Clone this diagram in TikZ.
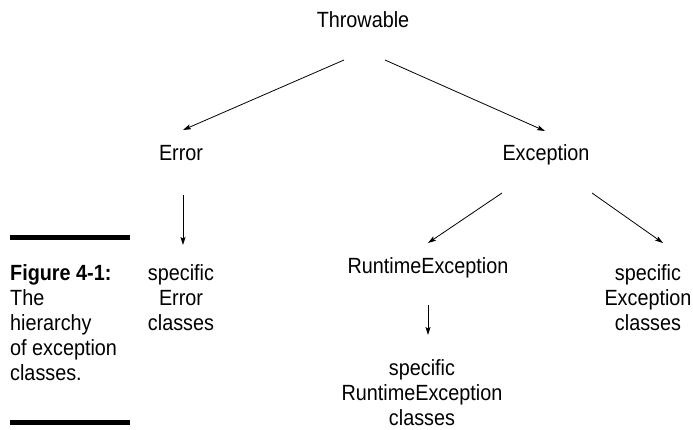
\documentclass[tikz,border=0pt]{standalone}
\usepackage{fontspec}
\setmainfont{Liberation Sans}[FakeStretch=0.9]
\usetikzlibrary{arrows.meta}

\begin{document}
\begin{tikzpicture}[
    x=1pt,y=-1pt,
    cls/.style={
        anchor=base,
        inner sep=0pt,
        align=center,
        font=\fontsize{22pt}{25pt}\selectfont
    },
    caption/.style={
        anchor=base west,
        inner sep=0pt,
        align=left,
        font=\fontsize{22pt}{25pt}\selectfont
    },
    link/.style={-{Stealth[length=8pt,width=5pt,inset=1.5pt]},line width=0.8pt},
    rule/.style={line width=5pt}
    ]
    \useasboundingbox (0,0) rectangle (693,429);

    % the classes (multi-line ones sit on their last line)
    \node [cls] (throw) at (363,27) {Throwable};
    \node [cls] (error) at (181,160) {Error};
    \node [cls] (exc) at (546,160) {Exception};
    \node [cls] (errspec) at (181,330) {specific\\Error\\classes};
    \node [cls] (rte) at (428,273) {RuntimeException};
    \node [cls] (excspec) at (648,330) {specific\\Exception\\classes};
    \node [cls] (rtespec) at (422,425) {specific\\RuntimeException\\classes};

    % the links
    \draw [link] ([xshift=-19pt,yshift=-33pt]throw.base) -- ([xshift=2pt,yshift=30pt]error.base);
    \draw [link] ([xshift=22pt,yshift=-33pt]throw.base) -- ([xshift=-1pt,yshift=29pt]exc.base);
    \draw [link] ([xshift=2pt,yshift=-35pt]error.base) -- ([xshift=2pt,yshift=85pt]errspec.base);
    \draw [link] ([xshift=-44pt,yshift=-33pt]exc.base) -- ([yshift=30pt]rte.base);
    \draw [link] ([xshift=46pt,yshift=-33pt]exc.base) -- ([xshift=15pt,yshift=87pt]excspec.base);
    \draw [link] ([yshift=-32pt]rte.base) -- ([xshift=6pt,yshift=90pt]rtespec.base);

    % the caption
    \draw [rule] (10,237) -- (130,237);
    \node [caption] (cap) at (10,380) {\textbf{Figure 4-1:}\\The\\hierarchy\\of exception\\classes.};
    \draw [rule] (10,422) -- (130,422);
\end{tikzpicture}
\end{document}
